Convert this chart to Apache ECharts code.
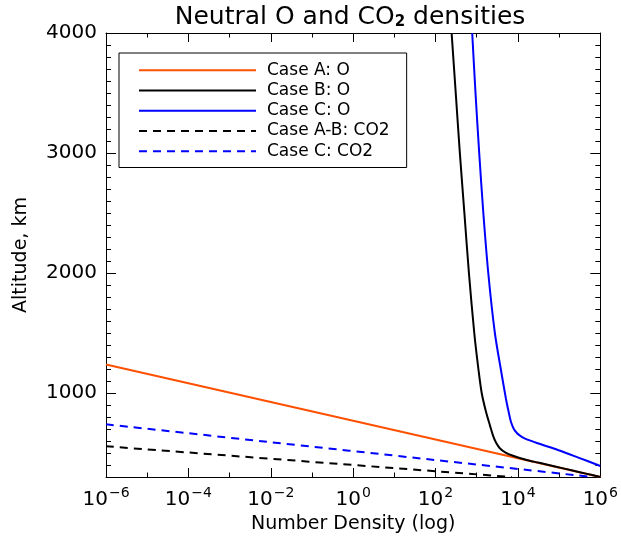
<!DOCTYPE html>
<html>
<head>
<meta charset="utf-8">
<script src="https://cdn.jsdelivr.net/npm/echarts@6/dist/echarts.min.js"></script>
<style>
  html, body { margin: 0; padding: 0; background: #fff; }
  #chart { width: 621px; height: 546px; }
</style>
</head>
<body>
<div id="chart"></div>
<script>
// Density profiles: altitude (km) against log10 of number density.
const caseA_O_logN = [-6.0, 6.0];
const caseA_O_alt  = [1237, 300];

const caseB_O_logN = [2.39, 2.49, 2.59, 2.70, 2.81, 2.94, 3.04, 3.12, 3.22, 3.32, 3.40, 3.47, 3.56, 3.70, 3.88, 4.17, 4.49, 4.90, 5.30, 5.65, 6.0];
const caseB_O_alt  = [4000, 3500, 3000, 2500, 2000, 1500, 1200, 1000, 850, 730, 640, 585, 540, 503, 477, 446, 420, 388, 356, 328, 300];

const caseC_O_logN = [2.89, 2.97, 3.06, 3.16, 3.28, 3.44, 3.60, 3.71, 3.77, 3.83, 3.90, 3.98, 4.05, 4.16, 4.48, 4.97, 5.45, 6.0];
const caseC_O_alt  = [4000, 3500, 3000, 2500, 2000, 1500, 1167, 950, 850, 760, 700, 665, 645, 622, 581, 525, 464, 392];

const caseAB_CO2_logN = [-6.0, 3.85];
const caseAB_CO2_alt  = [556, 300];

const caseC_CO2_logN = [-6.0, 5.8];
const caseC_CO2_alt  = [739, 300];

const seriesNames = ['Case A: O', 'Case B: O', 'Case C: O', 'Case A-B: CO2', 'Case C: CO2'];
const xTickExponents = [-6, -4, -2, 0, 2, 4, 6];
const yTickLabels = [1000, 2000, 3000, 4000];

const FONT = 'DejaVu Sans';
const pairs = (xs, ys) => xs.map((x, i) => [x, ys[i]]);

const profiles = [
  { logN: caseA_O_logN,    alt: caseA_O_alt,    color: '#ff5000', type: 'solid' },
  { logN: caseB_O_logN,    alt: caseB_O_alt,    color: '#000000', type: 'solid' },
  { logN: caseC_O_logN,    alt: caseC_O_alt,    color: '#0000ff', type: 'solid' },
  { logN: caseAB_CO2_logN, alt: caseAB_CO2_alt, color: '#000000', type: [8, 6] },
  { logN: caseC_CO2_logN,  alt: caseC_CO2_alt,  color: '#0000ff', type: [8, 6] }
];

const chart = echarts.init(document.getElementById('chart'), null, { renderer: 'canvas' });

const axisLine = { show: true, onZero: false, lineStyle: { color: '#000', width: 1 } };
const xBase = {
  type: 'value', min: -6, max: 6, interval: 2,
  axisLine: axisLine,
  axisTick: { show: true, inside: true, length: 9, lineStyle: { color: '#000' } },
  minorTick: { show: true, splitNumber: 2, length: 4.5, lineStyle: { color: '#000' } },
  splitLine: { show: false }
};
const yMajor = {
  type: 'value', min: 300, max: 4000, splitNumber: 4,
  axisLine: axisLine,
  axisTick: { show: true, inside: true, length: 10, lineStyle: { color: '#000' } },
  splitLine: { show: false }
};
const yMinor = {
  type: 'value', min: 300, max: 4000, interval: 100,
  axisLine: { show: false, onZero: false },
  axisTick: { show: true, inside: true, length: 5, lineStyle: { color: '#000' } },
  axisLabel: { show: false },
  splitLine: { show: false }
};

chart.setOption({
  animation: false,
  backgroundColor: '#fff',
  grid: { left: 106, top: 33, width: 497, height: 444, containLabel: false },
  graphic: [{
    type: 'text', x: 350, y: 15,
    style: {
      text: '{a|Neutral O and CO}{s|2}{a| densities}',
      align: 'center', verticalAlign: 'middle',
      rich: {
        a: { fontFamily: FONT, fontSize: 25, fill: '#000', lineHeight: 29, verticalAlign: 'bottom' },
        s: { fontFamily: FONT, fontSize: 15, fontWeight: 'bold', fill: '#000', lineHeight: 23, verticalAlign: 'bottom' }
      }
    }
  }],
  legend: {
    orient: 'vertical', left: 119, top: 53,
    padding: [7, 17, 6, 19],
    itemWidth: 117, itemHeight: 14, itemGap: 0,
    borderColor: '#000', borderWidth: 1,
    selectedMode: false,
    itemStyle: { opacity: 0, color: 'transparent', borderWidth: 0 },
    textStyle: { fontFamily: FONT, fontSize: 17, color: '#000', lineHeight: 20.3, padding: [0, 0, 0, 6] },
    data: seriesNames
  },
  xAxis: [
    Object.assign({}, xBase, {
      position: 'bottom',
      name: 'Number Density (log)', nameLocation: 'middle', nameGap: 35,
      nameTextStyle: { fontFamily: FONT, fontSize: 19, color: '#000' },
      axisLabel: {
        show: true, margin: 9,
        customValues: xTickExponents,
        formatter: v => '{b|10}{e|' + (v < 0 ? '\u2212' + (-v) : v) + '}',
        rich: {
          b: { fontFamily: FONT, fontSize: 20, color: '#000', lineHeight: 24, verticalAlign: 'bottom' },
          e: { fontFamily: FONT, fontSize: 14, color: '#000', lineHeight: 24, verticalAlign: 'bottom', padding: [0, 0, 10, 1] }
        }
      }
    }),
    Object.assign({}, xBase, { position: 'top', axisLabel: { show: false } })
  ],
  yAxis: [
    Object.assign({}, yMajor, {
      position: 'left',
      name: 'Altitude, km', nameLocation: 'middle', nameGap: 75, nameRotate: 90,
      nameTextStyle: { fontFamily: FONT, fontSize: 19, color: '#000' },
      axisLabel: {
        show: true, margin: 9, fontFamily: FONT, fontSize: 20, color: '#000',
        formatter: v => (yTickLabels.indexOf(v) >= 0 ? String(v) : '')
      }
    }),
    Object.assign({}, yMinor, { position: 'left' }),
    Object.assign({}, yMajor, { position: 'right', axisLabel: { show: false } }),
    Object.assign({}, yMinor, { position: 'right' })
  ],
  series: profiles.map((p, i) => ({
    name: seriesNames[i],
    type: 'line',
    xAxisIndex: 0, yAxisIndex: 0,
    data: pairs(p.logN, p.alt),
    showSymbol: false, symbol: 'none',
    smooth: 0.3,
    clip: true,
    lineStyle: { color: p.color, width: 2, type: p.type },
    itemStyle: { color: p.color },
    emphasis: { disabled: true }
  }))
});
</script>
</body>
</html>
